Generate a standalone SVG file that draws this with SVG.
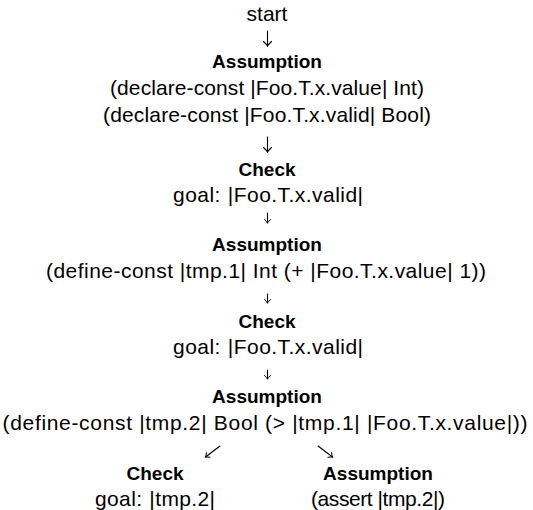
<svg xmlns="http://www.w3.org/2000/svg" width="533" height="510" viewBox="0 0 533 510">
<style>
text{font-family:"Liberation Sans",Arial,sans-serif;font-size:21px;fill:#000;text-anchor:middle}
.t{font-weight:bold;font-size:19px}
.c{fill:none;stroke:#000;stroke-width:1.1;stroke-linecap:round}
.big{marker-end:url(#ah)}
.sm{marker-end:url(#ahs)}
</style>
<defs>
<marker id="ah" markerUnits="userSpaceOnUse" viewBox="-6 -5 7 10" markerWidth="7" markerHeight="10" refX="0" refY="0" orient="auto" overflow="visible">
<path d="M-4.5,-4 Q-1.5,-0.8 0,0 Q-1.5,0.8 -4.5,4" fill="none" stroke="#000" stroke-width="1.1" stroke-linecap="round"/>
</marker>
<marker id="ahs" markerUnits="userSpaceOnUse" viewBox="-5 -4 6 8" markerWidth="6" markerHeight="8" refX="0" refY="0" orient="auto" overflow="visible">
<path d="M-3.5,-3 Q-1.2,-0.6 0,0 Q-1.2,0.6 -3.5,3" fill="none" stroke="#000" stroke-width="1" stroke-linecap="round"/>
</marker>
</defs>
<g id="connectors">
<path class="c big" d="M267.5,31 V46"/>
<path class="c big" d="M267.5,137 V152"/>
<path class="c sm" d="M267.5,213 V223"/>
<path class="c sm" d="M267.5,294 V303"/>
<path class="c sm" d="M267.5,370 V379"/>
<path class="c sm" d="M220,446 L205.5,457"/>
<path class="c sm" d="M318,446 L332.5,457"/>
</g>
<g id="n0"><text x="267" y="21">start</text></g>
<g id="n1">
<text class="t" x="267" y="68">Assumption</text>
<text x="267" y="95" textLength="314" lengthAdjust="spacing">(declare-const |Foo.T.x.value| Int)</text>
<text x="267" y="122" textLength="328" lengthAdjust="spacing">(declare-const |Foo.T.x.valid| Bool)</text>
</g>
<g id="n2">
<text class="t" x="267" y="176">Check</text>
<text x="268" y="202" textLength="190" lengthAdjust="spacing">goal:<tspan dx="7">|Foo.T.x.valid|</tspan></text>
</g>
<g id="n3">
<text class="t" x="267" y="251">Assumption</text>
<text x="266" y="278" textLength="440" lengthAdjust="spacing">(define-const |tmp.1| Int (+ |Foo.T.x.value| 1))</text>
</g>
<g id="n4">
<text class="t" x="267" y="328">Check</text>
<text x="268" y="354" textLength="190" lengthAdjust="spacing">goal:<tspan dx="7">|Foo.T.x.valid|</tspan></text>
</g>
<g id="n5">
<text class="t" x="267" y="403">Assumption</text>
<text x="265" y="430" textLength="525" lengthAdjust="spacing">(define-const |tmp.2| Bool (&gt; |tmp.1| |Foo.T.x.value|))</text>
</g>
<g id="n6">
<text class="t" x="155" y="480">Check</text>
<text x="155" y="506" textLength="120" lengthAdjust="spacing">goal:<tspan dx="7">|tmp.2|</tspan></text>
</g>
<g id="n7">
<text class="t" x="378" y="480">Assumption</text>
<text x="378" y="506" textLength="134" lengthAdjust="spacing">(assert |tmp.2|)</text>
</g>
</svg>
